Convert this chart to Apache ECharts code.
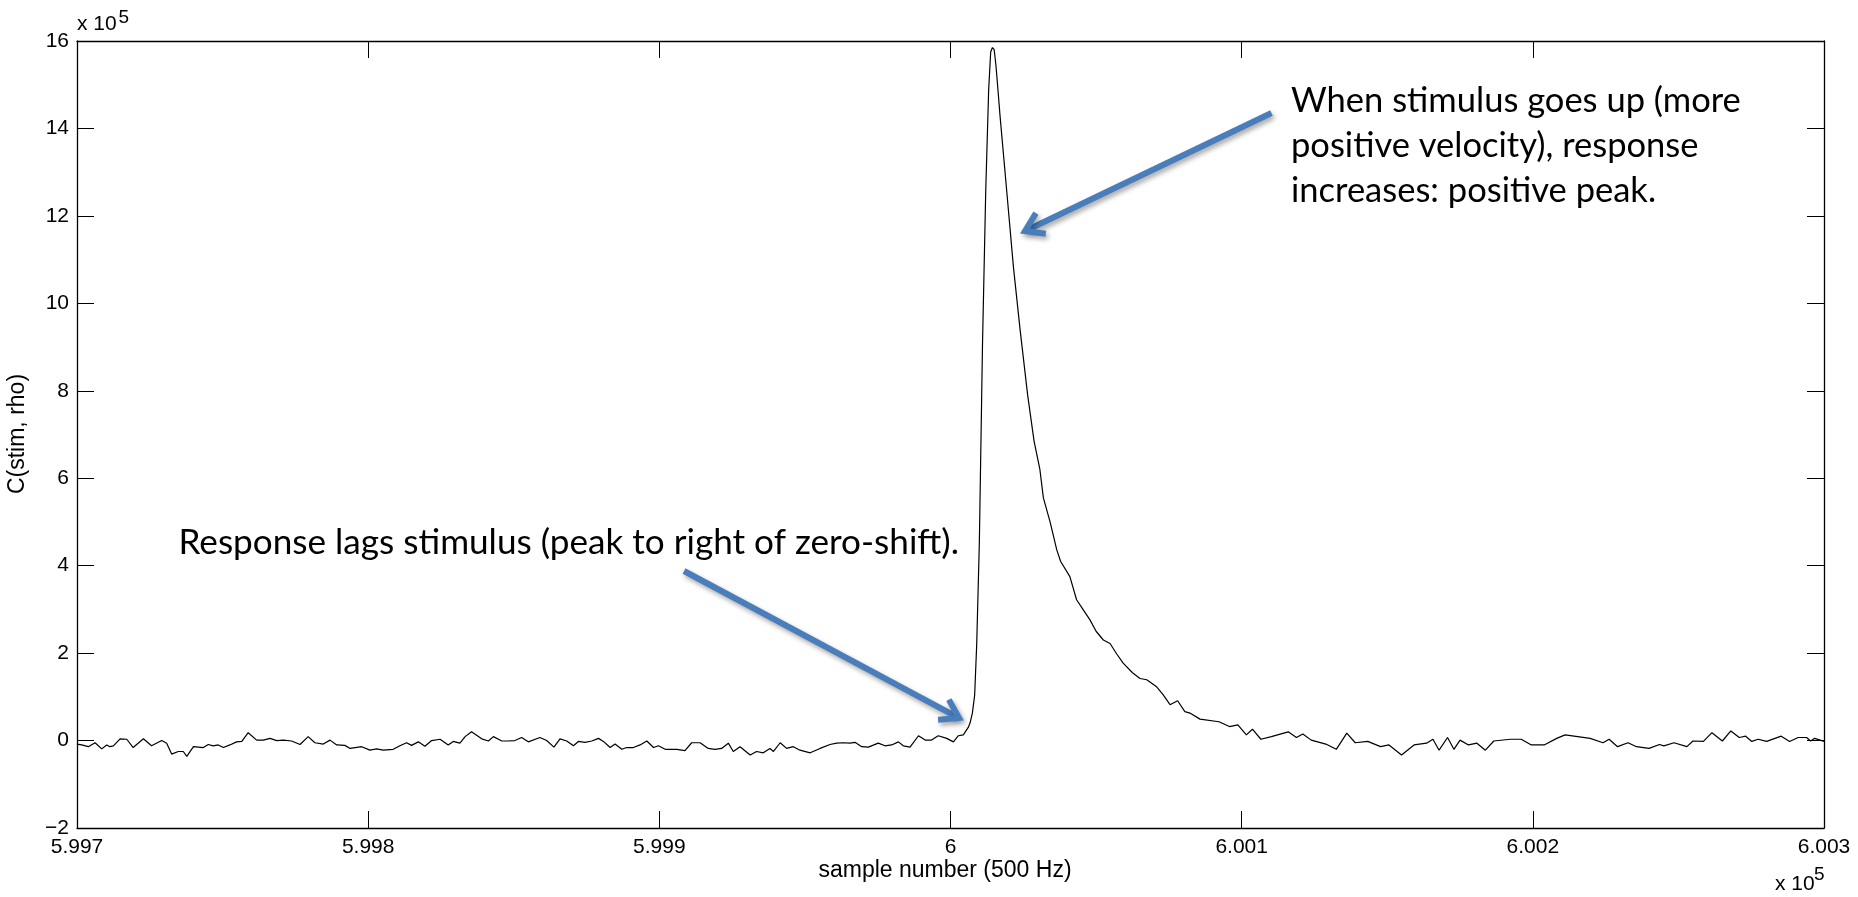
<!DOCTYPE html>
<html><head><meta charset="utf-8">
<script src="https://cdn.jsdelivr.net/npm/echarts/dist/echarts.min.js"></script>
<style>html,body{margin:0;padding:0;background:#fff}#c{width:1858px;height:897px}</style>
</head><body><div id="c"></div>
<script>
// ---- data (y in units of 10^5) ----
const sampleBase = 599700;
const sampleOffset = [
  0,1.6,3.9,6.2,8.5,10.2,11.3,12.5,14.8,17.1,19.3,22.8,25.6,29.1,30.8,32.5,34.8,36.5,37.7,40.0,
  43.4,45.1,46.8,48.5,50.3,52.5,54.8,56.6,58.8,61.7,64.0,66.3,68.6,70.9,73.7,76.6,79.4,81.7,84.6,86.9,
  89.2,92.0,93.8,97.8,100.6,102.9,105.2,108.6,110.9,113.2,114.9,117.2,119.5,121.8,124.7,127.5,129.2,131.5,133.3,135.5,
  139.0,141.3,143.0,145.9,148.1,150.4,152.7,155.0,159.0,161.3,163.8,165.9,168.2,170.5,172.2,174.5,176.8,179.1,180.8,183.1,
  184.8,187.1,188.8,191.1,193.4,195.7,198.0,199.7,202.0,203.7,206.0,208.8,211.1,214.0,216.8,219.1,221.4,223.7,225.4,227.7,
  231.2,233.4,235.7,238.0,239.2,241.5,243.7,246.0,248.3,251.8,255.2,258.6,260.9,263.2,265.5,267.2,269.5,271.8,275.2,277.5,
  279.8,282.1,283.8,286.1,289.0,291.3,293.5,295.8,298.7,301.0,302.7,304.4,306.1,306.7,307.5,308.3,309.0,309.9,311.0,312.1,
  313.1,313.8,314.4,315.0,315.6,316.4,317.0,319.4,321.6,323.9,326.5,328.7,330.7,331.9,334.2,336.5,337.8,341.0,343.3,345.5,
  347.9,350.0,352.5,354.8,357.1,359.3,362.5,365.1,367.4,370.8,373.0,375.4,378.0,380.5,382.5,385.7,392.2,395.8,398.7,401.6,
  403.7,406.6,410.2,416.0,418.8,421.0,423.9,428.9,432.5,436.1,439.0,443.3,447.7,450.6,454.9,459.2,463.5,465.7,467.8,470.7,
  472.9,475.0,477.9,480.8,483.7,486.6,492.3,496.0,499.5,503.9,508.2,511.1,515.4,519.7,524.1,526.2,529.1,532.7,535.6,539.9,
  543.5,545.0,548.5,552.9,555.0,558.6,561.5,565.1,568.0,570.9,573.1,575.2,577.4,580.3,585.3,588.2,591.1,594.0,595.4,596.8,
  600.0
];
const rho = [
  -0.08,-0.10,-0.14,-0.05,-0.19,-0.10,-0.14,-0.12,0.04,0.03,-0.16,0.04,-0.12,0.00,-0.06,-0.31,-0.25,-0.25,-0.36,-0.14,
  -0.16,-0.09,-0.12,-0.10,-0.16,-0.10,-0.03,-0.02,0.18,0.01,0.01,0.05,0.00,0.01,-0.01,-0.09,0.09,-0.05,-0.08,0.01,
  -0.10,-0.11,-0.18,-0.14,-0.22,-0.19,-0.22,-0.20,-0.12,-0.05,-0.11,-0.03,-0.13,0.00,0.03,-0.10,-0.02,-0.06,0.09,0.20,
  0.04,-0.01,0.09,-0.01,-0.01,0.00,0.07,-0.03,0.07,0.00,-0.15,0.04,-0.01,-0.12,-0.02,-0.04,-0.01,0.05,-0.02,-0.16,
  -0.08,-0.20,-0.16,-0.16,-0.10,-0.01,-0.16,-0.12,-0.20,-0.20,-0.20,-0.23,-0.05,-0.05,-0.18,-0.20,-0.18,-0.06,-0.25,-0.14,
  -0.33,-0.25,-0.28,-0.18,-0.25,-0.05,-0.18,-0.14,-0.22,-0.28,-0.18,-0.09,-0.06,-0.05,-0.06,-0.04,-0.14,-0.15,-0.06,-0.12,
  -0.10,-0.03,-0.12,-0.15,0.11,0.01,0.01,0.11,0.05,-0.03,0.11,0.13,0.30,0.40,0.62,1.04,2.2,4.5,9.1,12.57,
  14.87,15.75,15.85,15.8,15.45,14.8,14.3,12.5,10.84,9.4,7.9,6.85,6.2,5.55,5.0,4.36,4.1,3.75,3.22,3.0,
  2.76,2.5,2.30,2.22,1.98,1.77,1.55,1.42,1.39,1.23,1.05,0.82,0.91,0.66,0.62,0.49,0.43,0.32,0.36,0.13,
  0.26,0.03,0.09,0.20,0.07,0.15,0.01,-0.08,-0.20,0.17,-0.05,-0.02,-0.14,-0.10,-0.33,-0.10,-0.06,0.03,-0.22,0.07,
  -0.20,0.01,-0.10,-0.06,-0.22,-0.01,0.03,0.03,-0.10,-0.10,0.05,0.13,0.09,0.05,-0.05,0.03,-0.14,-0.05,-0.14,-0.18,
  -0.09,-0.12,-0.05,-0.14,-0.01,-0.02,0.18,-0.01,0.22,0.07,0.10,-0.02,0.03,-0.02,0.10,-0.02,0.07,0.07,-0.01,0.05,
  -0.02
];
const xTickLabels = ['5.997','5.998','5.999','6','6.001','6.002','6.003'];
const yTickLabels = ['\u22122','0','2','4','6','8','10','12','14','16'];
const xLabelText = 'sample number (500 Hz)';
const yLabelText = 'C(stim, rho)';
const noteTop = ['When stimulus goes up (more', 'positive velocity), response', 'increases: positive peak.'];
const noteBottom = 'Response lags stimulus (peak to right of zero-shift).';

// ---- layout ----
const X_MIN = 599700, X_MAX = 600300, X_INT = 100;
const Y_MIN = -2, Y_MAX = 16, Y_INT = 2;
const TICK_FONT = 'Liberation Sans';
const NOTE_FONT = 'Lato';
const BLUE = '#4a7ebb';

function fitSize(lines, family, target) {
  const ctx = document.createElement('canvas').getContext('2d');
  ctx.font = '100px ' + family;
  const w = Math.max.apply(null, lines.map(l => ctx.measureText(l).width));
  return 100 * target / w;
}
const fsTop = fitSize([noteTop[0]], NOTE_FONT, 450);
const fsBot = fitSize([noteBottom], NOTE_FONT, 781);

function arrow(from, to) {
  const dx = to[0] - from[0], dy = to[1] - from[1];
  const L = Math.hypot(dx, dy), ux = dx / L, uy = dy / L;
  const len = 21, ang = 33 * Math.PI / 180;
  const rot = (a) => [-(ux * Math.cos(a) - uy * Math.sin(a)), -(ux * Math.sin(a) + uy * Math.cos(a))];
  const b1 = rot(ang), b2 = rot(-ang);
  const style = { stroke: BLUE, lineWidth: 6, lineCap: 'butt', lineJoin: 'miter',
    shadowBlur: 5, shadowOffsetX: 2, shadowOffsetY: 3, shadowColor: 'rgba(0,0,0,0.35)', fill: null };
  return [
    { type: 'line', z: 50, shape: { x1: from[0], y1: from[1], x2: to[0] - ux * 3, y2: to[1] - uy * 3 }, style },
    { type: 'polyline', z: 50, shape: { points: [[to[0] + b1[0] * len, to[1] + b1[1] * len], to, [to[0] + b2[0] * len, to[1] + b2[1] * len]] }, style }
  ];
}

const graphics = [
  // x 10^5 (top-left, y-axis multiplier)
  { type: 'text', x: 77, y: 31.7 - 7.3, style: { text: 'x 10', fontFamily: TICK_FONT, fontSize: 21, fill: '#000', verticalAlign: 'middle' } },
  { type: 'text', x: 118.5, y: 25 - 7.3, style: { text: '5', fontFamily: TICK_FONT, fontSize: 19, fill: '#000', verticalAlign: 'middle' } },
  // x 10^5 (bottom-right, x-axis multiplier)
  { type: 'text', x: 1775, y: 891.5 - 7.3, style: { text: 'x 10', fontFamily: TICK_FONT, fontSize: 21, fill: '#000', verticalAlign: 'middle' } },
  { type: 'text', x: 1814, y: 882 - 7.3, style: { text: '5', fontFamily: TICK_FONT, fontSize: 19, fill: '#000', verticalAlign: 'middle' } },
  // axis titles
  { type: 'text', x: 945, y: 871, style: { text: xLabelText, fontFamily: TICK_FONT, fontSize: 23, fill: '#000', align: 'center', verticalAlign: 'middle' } },
  { type: 'text', x: 18, y: 434, rotation: Math.PI / 2, style: { text: yLabelText, fontFamily: TICK_FONT, fontSize: 23, fill: '#000', align: 'center', verticalAlign: 'middle' } },
  // annotations
  { type: 'text', x: 1291, y: 114.5 - 0.387 * fsTop, style: { text: noteTop[0], fontFamily: NOTE_FONT, fontSize: fsTop, fill: '#000', verticalAlign: 'middle' } },
  { type: 'text', x: 1291, y: 159 - 0.387 * fsTop, style: { text: noteTop[1], fontFamily: NOTE_FONT, fontSize: fsTop, fill: '#000', verticalAlign: 'middle' } },
  { type: 'text', x: 1291, y: 204 - 0.387 * fsTop, style: { text: noteTop[2], fontFamily: NOTE_FONT, fontSize: fsTop, fill: '#000', verticalAlign: 'middle' } },
  { type: 'text', x: 178.5, y: 556 - 0.387 * fsBot, style: { text: noteBottom, fontFamily: NOTE_FONT, fontSize: fsBot, fill: '#000', verticalAlign: 'middle' } }
].concat(arrow([1271.5, 113], [1025, 231])).concat(arrow([684, 571], [959, 718]));

const axisCommon = {
  type: 'value',
  axisLine: { show: true, onZero: false, lineStyle: { color: '#000', width: 1.3 } },
  axisTick: { show: true, inside: true, length: 17, lineStyle: { color: '#000', width: 1 } },
  splitLine: { show: false }
};
const xFmt = v => xTickLabels[Math.round((v - X_MIN) / X_INT)];
const yFmt = v => yTickLabels[Math.round((v - Y_MIN) / Y_INT)];

const chart = echarts.init(document.getElementById('c'), null, { renderer: 'canvas' });
chart.setOption({
  animation: false,
  backgroundColor: '#fff',
  grid: { left: 77, right: 34, top: 41, bottom: 69, containLabel: false },
  xAxis: [
    Object.assign({}, axisCommon, { position: 'bottom', min: X_MIN, max: X_MAX, interval: X_INT,
      axisLabel: { formatter: xFmt, fontFamily: TICK_FONT, fontSize: 21, color: '#000', margin: 9, showMinLabel: true, showMaxLabel: true } }),
    Object.assign({}, axisCommon, { position: 'top', min: X_MIN, max: X_MAX, interval: X_INT, axisLabel: { show: false } })
  ],
  yAxis: [
    Object.assign({}, axisCommon, { position: 'left', min: Y_MIN, max: Y_MAX, interval: Y_INT,
      axisLabel: { formatter: yFmt, fontFamily: TICK_FONT, fontSize: 21, color: '#000', margin: 8, showMinLabel: true, showMaxLabel: true } }),
    Object.assign({}, axisCommon, { position: 'right', min: Y_MIN, max: Y_MAX, interval: Y_INT, axisLabel: { show: false } })
  ],
  series: [{
    type: 'line',
    xAxisIndex: 0, yAxisIndex: 0,
    data: sampleOffset.map((o, i) => [sampleBase + o, rho[i]]),
    showSymbol: false,
    smooth: false,
    lineStyle: { color: '#000', width: 1.2 },
    clip: true
  }],
  graphic: graphics
});
</script></body></html>
